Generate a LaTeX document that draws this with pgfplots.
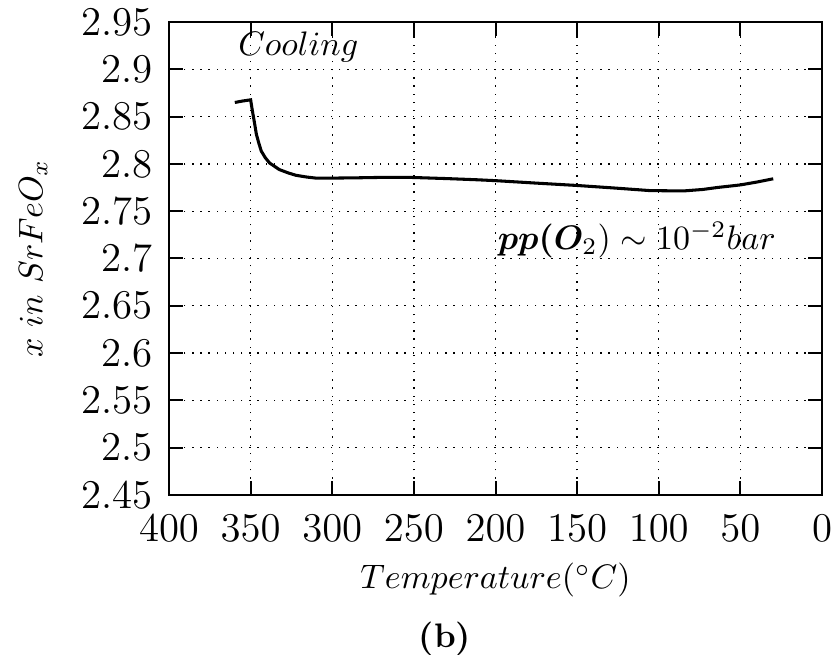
\documentclass[border=0pt]{standalone}
\usepackage{pgfplots}
\pgfplotsset{compat=1.18}
\usepackage{bm}
\begin{document}
\begin{tikzpicture}
\begin{axis}[
  scale only axis,
  width=192pt, height=139pt,
  xmin=0, xmax=400, ymin=2.45, ymax=2.95,
  x dir=reverse,
  xtick={0,50,...,400},
  ytick={2.45,2.5,2.55,2.6,2.65,2.7,2.75,2.8,2.85,2.9,2.95},
  yticklabels={2.45,2.5,2.55,2.6,2.65,2.7,2.75,2.8,2.85,2.9,2.95},
  tick label style={font=\fontsize{12}{14}\selectfont},
  xticklabel style={yshift=-2.5pt},
  yticklabel style={xshift=-1.2pt},
  grid=major,
  major grid style={black, dotted, line width=0.4pt},
  tick align=inside,
  major tick length=4pt,
  tick style={black, line width=0.6pt},
  axis line style={black, line width=0.75pt},
  clip=false,
  xlabel={$Temperature(^{\circ}C)$},
  ylabel={$x\ in\ SrFeO_x$},
  xlabel style={at={(axis description cs:0.5,-0.18)}, anchor=center},
  ylabel style={at={(axis description cs:-0.208,0.5)}, anchor=center, rotate=0},
]
\addplot[black, line width=0.9pt] coordinates {
(359.7,2.8650) (355,2.8665) (350,2.8678) (349.3,2.8600) (348.6,2.8528)
(347.5,2.8420) (346.5,2.8314) (345,2.8220) (343.5,2.8136) (341,2.8065)
(338.4,2.8010) (335,2.7970) (332.4,2.7940) (327,2.7905) (322.3,2.7880)
(316,2.7862) (310,2.7850) (300,2.7850) (285,2.7853) (271.6,2.7857)
(251.4,2.7857) (230,2.7845) (210.8,2.7832) (200,2.7823) (175,2.7797)
(150,2.7772) (127,2.7745) (105.5,2.7718) (85,2.7714) (73,2.7730)
(64,2.7751) (50,2.7778) (40,2.7808) (29.9,2.7843)
};
\node[anchor=west, inner sep=0pt] at (axis cs:358,2.9236) {$Cooling$};
\node[anchor=west, inner sep=0pt] at (axis cs:199,2.7196) {$\bm{pp(O}_2) \sim 10^{-2}bar$};
\node at (axis description cs:0.4227,-0.305) {\textbf{(b)}};
\end{axis}
\pgfresetboundingbox
\path ([xshift=-49.7pt,yshift=-46.8pt]current axis.south west) rectangle ([xshift=4.4pt,yshift=6.5pt]current axis.north east);
\end{tikzpicture}
\end{document}
